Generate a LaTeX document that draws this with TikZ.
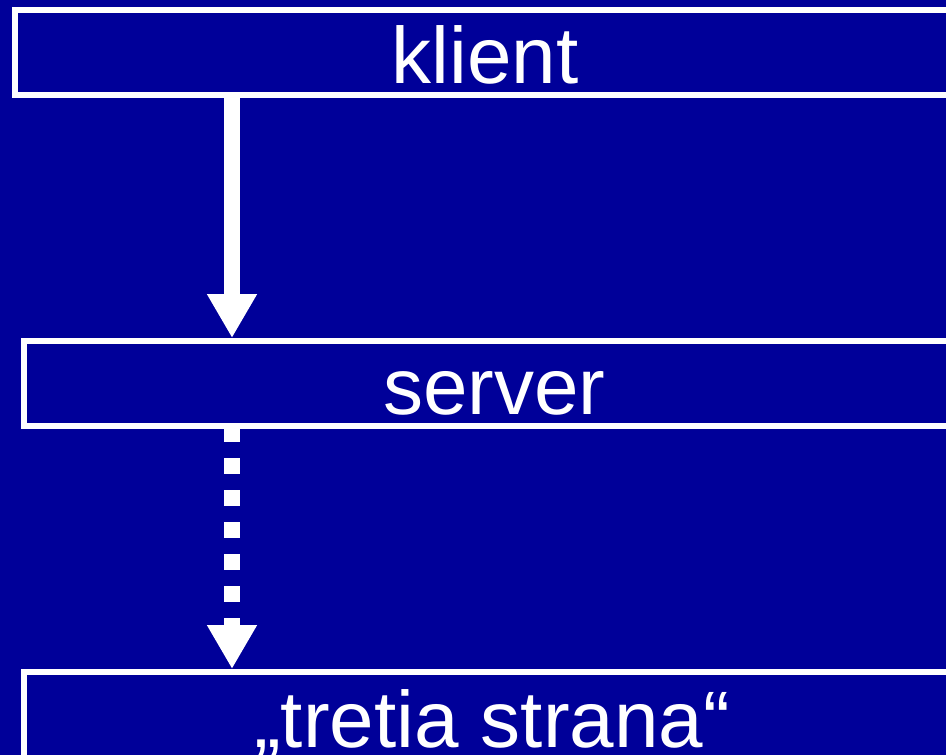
\documentclass[tikz,border=0pt]{standalone}
\usepackage{fontspec}
\setmainfont{Liberation Sans}
\usetikzlibrary{arrows.meta}
\definecolor{bgblue}{RGB}{0,0,153}
\begin{document}
\begin{tikzpicture}[x=1pt,y=-1pt,
  box/.style={draw=white,line width=6pt,inner sep=0pt,text=white,
    font=\fontsize{80}{96}\selectfont,text height=61pt,text depth=0pt,
    minimum height=85pt},
  flow/.style={draw=white,line width=16pt,-{Triangle[width=47pt,length=44pt]}},
  dotflow/.style={flow,dash pattern=on 16pt off 16pt,dash phase=3pt}]
\fill[bgblue] (0,0) rectangle (946,755);
\useasboundingbox (0,0) rectangle (946,755);
\node[box,minimum width=939.4pt] (klient) at (485,52.5) {klient};
\node[box,minimum width=941pt] (server) at (494.5,383.5) {server};
\node[box,minimum width=936pt,minimum height=90pt] (third) at (492,717) {„tretia strana“};
\coordinate (ax) at (232,0);
\draw[flow] (ax |- klient.south) -- (ax |- server.north);
\draw[dotflow] (ax |- server.south) -- (ax |- third.north);
\end{tikzpicture}
\end{document}
